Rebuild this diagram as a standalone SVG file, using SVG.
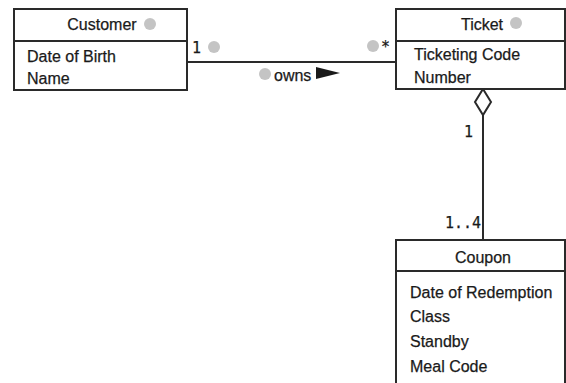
<svg xmlns="http://www.w3.org/2000/svg" width="566" height="383" viewBox="0 0 566 383">
<style>
.box{fill:#fff;stroke:#2a2a2a;stroke-width:2}
.ln{stroke:#2a2a2a;stroke-width:2;fill:none}
text{font-family:"Liberation Sans",Arial,sans-serif;font-size:16px;fill:#1a1a1a;stroke:#1a1a1a;stroke-width:0.25}
.c{text-anchor:middle}
.e{text-anchor:end}
.m{font-family:"DejaVu Sans Mono","Liberation Mono",monospace;font-size:15px}
.dot{fill:#c4c4c4}
</style>
<rect width="566" height="383" fill="#fff"/>
<g id="connectors">
<line class="ln" x1="187" y1="62" x2="396" y2="62"/>
<polygon points="316,67 340,73 316,79" fill="#1a1a1a"/>
<line class="ln" x1="483" y1="115" x2="483" y2="240"/>
<polygon class="ln" points="483,89 491,102 483,115 475,102" style="fill:#fff"/>
<text class="m" x="192" y="53">1</text>
<circle class="dot" cx="214" cy="47" r="6"/>
<circle class="dot" cx="373" cy="46" r="6"/>
<text class="m" x="381" y="52">*</text>
<circle class="dot" cx="265" cy="74" r="6"/>
<text x="274" y="81">owns</text>
<text class="m" x="464" y="137">1</text>
<text class="m e" x="481" y="228">1..4</text>
</g>
<g id="customer">
<rect class="box" x="14" y="9" width="173" height="81"/>
<line class="ln" x1="14" y1="41" x2="187" y2="41"/>
<text class="c" x="102" y="30">Customer</text>
<circle class="dot" cx="150" cy="24" r="6"/>
<text x="27" y="62">Date of Birth</text>
<text x="27" y="84">Name</text>
</g>
<g id="ticket">
<rect class="box" x="396" y="9" width="169" height="80"/>
<line class="ln" x1="396" y1="41" x2="565" y2="41"/>
<text class="c" x="482" y="30">Ticket</text>
<circle class="dot" cx="516" cy="23" r="6"/>
<text x="414" y="60">Ticketing Code</text>
<text x="414" y="83">Number</text>
</g>
<g id="coupon">
<rect class="box" x="396" y="240" width="169" height="150"/>
<line class="ln" x1="396" y1="271" x2="565" y2="271"/>
<text class="c" x="483" y="263">Coupon</text>
<text x="410" y="298">Date of Redemption</text>
<text x="410" y="322">Class</text>
<text x="410" y="347">Standby</text>
<text x="410" y="372">Meal Code</text>
</g>
</svg>
